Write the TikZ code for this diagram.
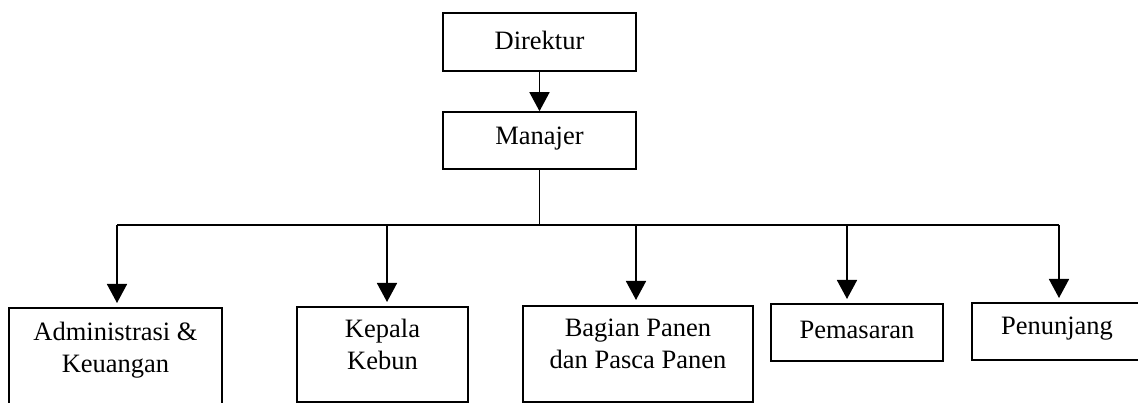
\documentclass[tikz,border=0pt]{standalone}
\usepackage{fontspec}
\setmainfont{Liberation Serif}
\usetikzlibrary{arrows.meta}
\begin{document}
\begin{tikzpicture}[x=1pt,y=-1pt,
  box/.style={draw,line width=1.6pt,inner sep=0pt,rectangle},
  txt/.style={font=\fontsize{26.5}{32}\selectfont,align=center,inner sep=0pt},
  conn/.style={line width=1.6pt,-{Triangle[width=20pt,length=19pt]}},
  bus/.style={line width=1.6pt}]
\useasboundingbox (0,0) rectangle (1138,403);
\fill[white] (0,0) rectangle (1138,403);
% top boxes
\node[box,minimum width=193pt,minimum height=58pt] (dir) at (539.5,42) {};
\node[txt] (tdir) at (539.5,40) {Direktur};
\node[box,minimum width=193pt,minimum height=57pt] (man) at (539.5,140.5) {};
\node[txt] (tman) at (539.5,139) {Manajer};
% bottom boxes
\node[box,minimum width=213pt,minimum height=122pt] (adm) at (115.5,369) {};
\node[txt] (tadm) at (115.5,350) {Administrasi \&\\Keuangan};
\node[box,minimum width=171pt,minimum height=95pt] (keb) at (382.5,354.5) {};
\node[txt] (tkeb) at (382.5,344) {Kepala\\Kebun};
\node[box,minimum width=230pt,minimum height=96pt] (bag) at (638,354) {};
\node[txt] (tbag) at (638,343.5) {Bagian Panen\\dan Pasca Panen};
\node[box,minimum width=172pt,minimum height=57pt] (pem) at (857,332.5) {};
\node[txt] (tpem) at (857,330) {Pemasaran};
\node[box,minimum width=168pt,minimum height=57pt] (pen) at (1056,331.5) {};
\node[txt] (tpen) at (1057,329) {Penunjang};
% connectors
\draw[conn] (dir.south) -- (man.north);
\coordinate (hub) at (539.5,225);
\coordinate (bl) at (117,225);
\coordinate (bk) at (387,225);
\coordinate (bb) at (636,225);
\coordinate (bp) at (847,225);
\coordinate (bn) at (1059,225);
\draw[bus] (man.south) -- (hub);
\draw[bus] (bl) -- (bn);
\draw[conn] (bl) -- (117,303);
\draw[conn] (bk) -- (387,302);
\draw[conn] (bb) -- (636,300);
\draw[conn] (bp) -- (847,299);
\draw[conn] (bn) -- (1059,298);
\end{tikzpicture}
\end{document}
